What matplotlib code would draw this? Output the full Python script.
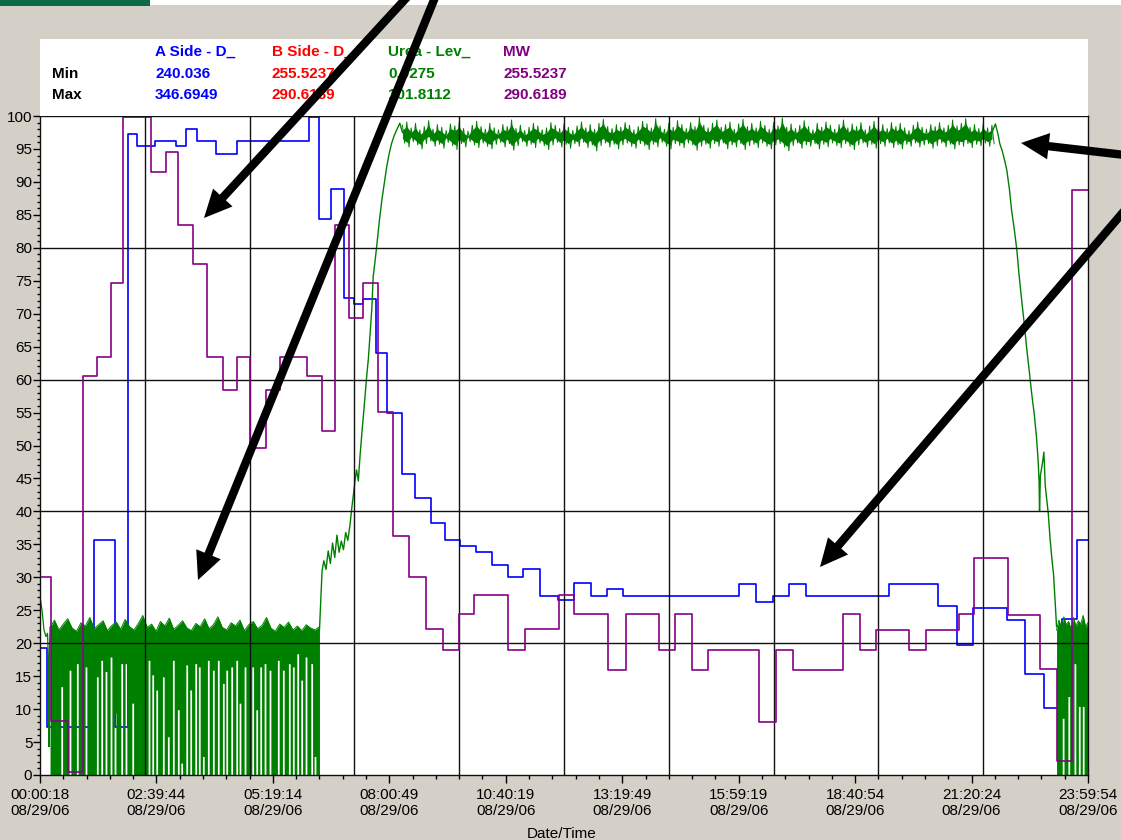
import numpy as np
import matplotlib
matplotlib.use("Agg")
import matplotlib.pyplot as plt
from matplotlib.patches import Rectangle, FancyArrowPatch, ArrowStyle
from matplotlib.ticker import MultipleLocator, AutoMinorLocator

plt.rcParams['font.family'] = ['Liberation Sans', 'DejaVu Sans']

# ---------------- data (time in hours from 00:00:18) ----------------
x_times = ["00:00:18", "02:39:44", "05:19:14", "08:00:49", "10:40:19",
           "13:19:49", "15:59:19", "18:40:54", "21:20:24", "23:59:54"]
x_date = "08/29/06"

series_names = ["A Side - D_", "B Side - D_", "Urea - Lev_", "MW"]
series_min = ["240.036", "255.5237", "0.0275", "255.5237"]
series_max = ["346.6949", "290.6189", "101.8112", "290.6189"]

# MW (purple) step series: level start times and values
mw_t = [0.0, 0.245, 0.64, 0.98, 1.31, 1.62, 1.91, 2.54, 2.89, 3.17, 3.51, 3.82,
        4.19, 4.50, 4.81, 5.17, 5.50, 6.11, 6.46, 6.76, 7.08, 7.39, 7.73, 8.08,
        8.46, 8.84, 9.22, 9.59, 9.95, 10.71, 11.11, 11.88, 12.24, 13.01, 13.41,
        14.17, 14.54, 14.93, 15.30, 16.46, 16.85, 17.25, 18.39, 18.78, 19.15,
        19.91, 20.28, 21.04, 21.40, 22.17, 22.90, 23.30, 23.63]
mw_v = [30.0, 8.2, 0.4, 60.6, 63.5, 74.6, 99.8, 91.5, 94.5, 83.5, 77.5, 63.5,
        58.4, 63.5, 49.6, 58.4, 63.5, 60.6, 52.2, 83.5, 69.4, 74.6, 55.1, 36.2,
        30.1, 22.1, 19.0, 24.4, 27.3, 19.0, 22.1, 27.3, 24.4, 15.9, 24.4,
        19.0, 24.4, 15.9, 19.0, 8.0, 19.0, 15.9, 24.4, 19.0, 22.0,
        19.0, 22.0, 24.4, 33.0, 24.3, 16.1, 2.2, 88.8]

# A Side (blue) step series
a_t = [0.0, 0.16, 1.24, 1.72, 2.01, 2.21, 2.63, 3.11, 3.34, 3.60, 4.03, 4.50,
       6.17, 6.40, 6.66, 6.96, 7.20, 7.39, 7.69, 7.95, 8.28, 8.59, 8.95, 9.27,
       9.62, 9.98, 10.35, 10.72, 11.07, 11.44, 11.86, 12.24, 12.61, 12.98,
       13.35, 16.01, 16.39, 16.78, 17.15, 17.54, 19.44, 20.56, 20.99, 21.36,
       22.15, 22.56, 23.00, 23.40, 23.75]
a_v = [19.3, 7.3, 35.6, 7.3, 97.3, 95.4, 96.2, 95.4, 98.0, 96.2, 94.3, 96.2,
       99.8, 84.3, 88.9, 72.4, 71.4, 72.3, 64.1, 54.9, 45.7, 42.1, 38.3, 35.6,
       34.8, 33.9, 31.8, 30.1, 31.2, 27.2, 26.5, 29.1, 27.2, 28.2,
       27.2, 29.0, 26.3, 27.1, 29.0, 27.1, 29.0, 25.6, 19.8, 25.4,
       23.5, 15.3, 10.1, 23.7, 35.6]

# Urea level (green): start trace
urea_start_t = [0.0, 0.046, 0.092, 0.137, 0.172, 0.19, 0.206, 0.22, 0.23]
urea_start_v = [27.1, 25.0, 22.0, 21.0, 21.5, 18.0, 4.3, 20.0, 22.4]

# low-level oscillating band (0 .. top), 00:14 - 06:24
urea_low_top = [22.4, 23.5, 22.0, 22.9, 23.7, 22.3, 21.8, 23.1, 22.6, 23.9,
                22.2, 22.8, 23.4, 21.9, 22.7, 23.2, 22.1, 23.6, 22.5, 22.0,
                23.0, 24.2, 22.4, 22.9, 21.8, 23.3, 22.6, 23.8, 22.1, 22.7,
                23.4, 22.3, 21.9, 23.0, 22.5, 23.7, 22.2, 22.8, 24.0, 22.4,
                22.0, 23.1, 22.6, 23.5, 21.9, 22.8, 23.3, 22.2, 22.7, 23.9,
                22.3, 21.8, 22.9, 22.4, 23.2, 22.0, 22.6, 21.9, 22.8, 22.3,
                22.0, 22.5]
# moments where the oscillation does not reach 0 (time, lowest value)
urea_gap_t = [0.497, 0.687, 0.854, 1.053, 1.312, 1.413, 1.511, 1.626, 1.718,
              1.871, 1.969, 2.123, 2.496, 2.581, 2.673, 2.824, 2.938, 3.053,
              3.167, 3.245, 3.360, 3.451, 3.566, 3.648, 3.740, 3.854, 3.969,
              4.083, 4.198, 4.276, 4.390, 4.505, 4.580, 4.695, 4.871, 4.963,
              5.054, 5.153, 5.267, 5.457, 5.572, 5.709, 5.801, 5.902, 5.993,
              6.092, 6.222, 6.298, 23.43, 23.56, 23.70, 23.80, 23.89]
urea_gap_v = [13.4, 15.9, 16.9, 16.4, 14.9, 17.4, 15.7, 17.9, 9.4,
              16.9, 16.9, 10.9, 17.4, 15.2, 12.9, 14.9, 5.8, 17.4,
              9.9, 1.8, 16.7, 12.9, 16.9, 16.4, 2.8, 17.4, 15.9,
              17.4, 13.9, 15.9, 16.4, 17.4, 10.9, 16.4, 16.4, 9.9,
              16.4, 16.9, 15.9, 17.4, 15.9, 16.9, 16.4, 18.4, 14.4,
              17.9, 16.9, 2.8, 8.6, 11.9, 16.9, 10.4, 10.4]

# rise from low level to full level
urea_rise_t = [6.40, 6.43, 6.46, 6.50, 6.55, 6.60, 6.65, 6.70, 6.75, 6.80, 6.85,
               6.90, 6.95, 7.00, 7.05, 7.10, 7.14, 7.18, 7.22, 7.25, 7.29, 7.33,
               7.37, 7.42, 7.48, 7.52, 7.56, 7.60, 7.63, 7.67, 7.71, 7.77, 7.83,
               7.88, 7.94, 8.00, 8.05, 8.11, 8.17, 8.24, 8.30]
urea_rise_v = [22.0, 26.5, 31.0, 32.5, 31.2, 34.0, 32.1, 35.2, 33.0, 36.4, 33.8,
               35.5, 34.2, 36.8, 35.6, 38.0, 40.5, 42.7, 45.0, 46.3, 44.6, 48.5,
               51.8, 55.6, 60.4, 63.2, 67.0, 70.9, 75.6, 77.8, 80.2, 84.0, 87.3,
               89.6, 92.3, 94.4, 95.8, 97.0, 97.9, 98.9, 97.5]

# full-level plateau band (upper / lower edge), 08:18 - 21:48, every 6 min
urea_hi = [98.6, 99.1, 98.2, 98.9, 97.9, 98.4, 99.3, 98.0, 98.7, 98.3,
           97.8, 98.8, 98.5, 99.0, 98.1, 97.7, 98.6, 99.2, 98.4, 98.0,
           98.9, 98.2, 97.9, 98.7, 98.4, 99.4, 98.1, 98.6, 97.8, 98.3,
           98.9, 98.5, 97.9, 98.2, 99.0, 98.6, 98.1, 98.8, 98.3, 97.8,
           98.5, 99.1, 98.2, 98.7, 98.0, 98.9, 99.5, 98.4, 98.1, 98.7,
           98.3, 99.0, 98.6, 97.9, 98.4, 99.2, 98.8, 98.2, 99.6, 98.5,
           98.0, 98.9, 98.3, 99.3, 98.7, 98.1, 99.0, 98.4, 99.8, 98.6,
           98.2, 98.9, 99.4, 98.3, 98.7, 99.1, 98.0, 98.8, 99.5, 98.4,
           98.9, 98.2, 99.2, 98.6, 98.0, 99.0, 98.5, 99.7, 98.3, 98.8,
           98.1, 98.6, 99.3, 98.4, 97.9, 98.9, 98.3, 99.1, 98.6, 98.0,
           98.7, 99.4, 98.2, 98.8, 98.4, 99.0, 97.9, 98.5, 99.2, 98.3,
           98.7, 98.1, 99.0, 98.4, 98.9, 98.2, 97.8, 98.6, 99.1, 98.3,
           98.0, 98.7, 98.4, 99.0, 98.2, 98.6, 99.4, 98.5, 98.9, 99.6,
           98.3, 98.7, 98.1, 98.8, 98.2, 98.6]
urea_lo = [95.9, 95.3, 96.1, 95.6, 95.0, 95.8, 96.2, 95.4, 95.7, 95.1,
           96.0, 95.5, 94.9, 95.8, 95.3, 96.1, 95.6, 95.2, 95.9, 95.4,
           95.0, 95.7, 96.0, 95.3, 95.8, 94.8, 95.5, 96.1, 95.4, 95.7,
           95.2, 95.9, 95.5, 94.9, 95.6, 96.0, 95.3, 95.7, 95.1, 95.8,
           95.4, 96.0, 95.2, 95.6, 94.7, 95.5, 95.9, 95.3, 95.7, 95.0,
           95.6, 95.9, 95.4, 95.1, 95.8, 95.5, 94.9, 95.7, 95.3, 96.0,
           95.4, 95.0, 95.8, 95.5, 95.2, 95.9, 95.6, 94.8, 95.4, 95.7,
           95.1, 95.8, 95.4, 95.9, 95.0, 95.6, 95.3, 95.8, 94.9, 95.5,
           95.7, 95.2, 95.9, 95.4, 95.0, 95.6, 95.8, 95.3, 94.7, 95.5,
           95.9, 95.1, 95.6, 95.4, 95.8, 95.0, 95.7, 95.3, 95.9, 95.5,
           95.2, 95.8, 95.4, 94.9, 95.6, 95.9, 95.3, 95.7, 95.1, 95.8,
           95.4, 95.9, 95.2, 95.6, 95.0, 95.7, 95.4, 95.9, 95.3, 95.6,
           95.8, 95.1, 95.5, 95.9, 95.3, 95.7, 95.0, 95.6, 95.4, 95.8,
           95.2, 95.7, 95.5, 95.9, 95.4, 95.8]

# fall back to low level
urea_fall_t = [21.80, 21.88, 21.94, 21.98, 22.04, 22.10, 22.14, 22.20, 22.25,
               22.31, 22.37, 22.42, 22.48, 22.54, 22.60, 22.66, 22.71, 22.77,
               22.82, 22.86, 22.88, 22.89, 22.91, 22.95, 22.99, 23.02, 23.06,
               23.09, 23.13, 23.17, 23.21, 23.25, 23.28]
urea_fall_v = [97.5, 98.8, 97.2, 95.8, 94.6, 93.0, 91.8, 88.9, 85.7,
               82.9, 79.7, 76.0, 72.1, 68.5, 64.5, 61.0, 57.9, 54.7,
               51.3, 47.5, 44.5, 40.0, 45.5, 47.0, 49.0, 44.0, 41.5,
               39.7, 36.0, 33.0, 30.5, 26.0, 22.5]

# final low-level band, 23:17 - 24:00
urea_end_top = [22.0, 23.5, 22.4, 24.0, 22.8, 23.3, 22.1, 23.9, 22.6, 23.4,
                22.9, 24.2, 22.5, 23.1]

# ---------------- figure ----------------
W, H = 1121, 840
fig = plt.figure(figsize=(W / 100, H / 100), dpi=100)
fig.patch.set_facecolor('#d4d0c8')


def fx(px):
    return px / W


def fy(py):
    return 1 - py / H


# header decorations
fig.patches.append(Rectangle((fx(150), fy(5)), fx(971), 5 / H, transform=fig.transFigure,
                             facecolor='white', edgecolor='none', zorder=0))
fig.patches.append(Rectangle((0, fy(6)), fx(150), 6 / H, transform=fig.transFigure,
                             facecolor='#0d6a47', edgecolor='none', zorder=0))
# legend / statistics box
fig.patches.append(Rectangle((fx(40), fy(116)), fx(1048), 77 / H, transform=fig.transFigure,
                             facecolor='white', edgecolor='none', zorder=0))

GREEN = '#008000'
BLUE = '#0000ff'
PURPLE = '#880088'
RED = '#ff0000'
col_colors = [BLUE, RED, GREEN, '#800080']
col_x = [155, 272, 388, 503]
for name, mn, mx, c, x in zip(series_names, series_min, series_max, col_colors, col_x):
    fig.text(fx(x), fy(52), name, color=c, fontsize=11, fontweight='bold', va='center', ha='left')
    fig.text(fx(x), fy(74), mn, color=c, fontsize=11, fontweight='bold', va='center', ha='left')
    fig.text(fx(x), fy(95), mx, color=c, fontsize=11, fontweight='bold', va='center', ha='left')
fig.text(fx(52), fy(74), "Min", color='black', fontsize=11, fontweight='bold', va='center', ha='left')
fig.text(fx(52), fy(95), "Max", color='black', fontsize=11, fontweight='bold', va='center', ha='left')

ax = fig.add_axes([fx(40), fy(775), 1048 / W, 659 / H])
ax.set_facecolor('white')
ax.set_xlim(0, 24)
ax.set_ylim(0, 100)


def band_with_gaps(t_env, top_env, gap_t, gap_v, w=0.04):
    """Fill 0..top, leaving the listed moments open below their lowest value."""
    t_env = np.asarray(t_env, float)
    top_env = np.asarray(top_env, float)
    sel = [(g, v) for g, v in zip(gap_t, gap_v) if t_env[0] < g < t_env[-1]]
    pts = []
    for t in t_env:
        low = 0.0
        for g, v in sel:
            if g - w / 2 < t < g + w / 2:
                low = v
        pts.append((t, 0, low))
    for g, v in sel:
        pts += [(g - w / 2, 0, 0.0), (g - w / 2, 1, v), (g + w / 2, 0, v), (g + w / 2, 1, 0.0)]
    pts.sort(key=lambda p: (p[0], p[1]))
    x = np.array([p[0] for p in pts])
    lower = np.array([p[2] for p in pts])
    upper = np.interp(x, t_env, top_env)
    ax.fill_between(x, lower, upper, color=GREEN, lw=0, zorder=1)
    ax.plot(t_env, top_env, color=GREEN, lw=0.7, zorder=1)


# green: urea level
ax.plot(urea_start_t, urea_start_v, color=GREEN, lw=0.9, zorder=1.2)
band_with_gaps(np.linspace(0.23, 6.40, len(urea_low_top)), urea_low_top, urea_gap_t, urea_gap_v)
band_with_gaps(np.linspace(23.28, 24.0, len(urea_end_top)), urea_end_top, urea_gap_t, urea_gap_v)

ax.plot(urea_rise_t, urea_rise_v, color=GREEN, lw=1.0, zorder=1.2)
t_pl = np.linspace(8.30, 21.80, len(urea_hi))
hi = np.asarray(urea_hi)
lo = np.asarray(urea_lo)
ax.fill_between(t_pl, lo + 0.7, hi - 0.7, color=GREEN, lw=0, zorder=1)
half = (t_pl[1] - t_pl[0]) / 2
zig_t = np.column_stack([t_pl, t_pl + half]).ravel()
zig_v = np.column_stack([hi, lo]).ravel()
ax.plot(zig_t, zig_v, color=GREEN, lw=0.7, zorder=1)
ax.plot(urea_fall_t, urea_fall_v, color=GREEN, lw=1.0, zorder=1.2)

# grid
for g in [20, 40, 60, 80]:
    ax.axhline(g, color='#111111', lw=1.0, zorder=1.5)
for g in np.arange(2.4, 23.9, 2.4):
    ax.axvline(g, color='#111111', lw=1.0, zorder=1.5)

# step series
ax.step(list(a_t) + [24.0], list(a_v) + [a_v[-1]], where='post', color=BLUE, lw=1.2, zorder=0.95)
ax.step(list(mw_t) + [24.0], list(mw_v) + [mw_v[-1]], where='post', color=PURPLE, lw=1.2, zorder=2.1)

# ticks
ax.yaxis.set_major_locator(MultipleLocator(5))
ax.yaxis.set_minor_locator(MultipleLocator(1))
ax.set_xticks(np.linspace(0, 24, len(x_times)))
ax.set_xticklabels([f"{tm}\n{x_date}" for tm in x_times])
ax.xaxis.set_minor_locator(AutoMinorLocator(5))
for lab in ax.get_xticklabels():
    lab.set_linespacing(1.2)
ax.tick_params(axis='x', which='major', length=6, width=1, pad=3.5, labelsize=11, direction='out')
ax.tick_params(axis='x', which='minor', length=3, width=1, direction='out')
ax.tick_params(axis='y', which='major', length=5, width=1, pad=0.5, labelsize=11, direction='out')
ax.tick_params(axis='y', which='minor', length=2.5, width=1, direction='out')
for s in ax.spines.values():
    s.set_color('#111111')
    s.set_linewidth(1.0)

fig.text(fx(562), fy(834), "Date/Time", fontsize=11, ha='center', va='center')

# annotation arrows (pixel positions, y from top)
arrows = [((409, -5), (204, 218)),
          ((436, -5), (198, 580)),
          ((1125, 155), (1021, 143)),
          ((1125, 210), (820, 567))]
style = ArrowStyle("Simple", head_length=2.0, head_width=1.9, tail_width=0.6)
for (x0, y0), (x1, y1) in arrows:
    fig.patches.append(FancyArrowPatch((fx(x0), fy(y0)), (fx(x1), fy(y1)),
                                       transform=fig.transFigure, arrowstyle=style,
                                       mutation_scale=10, color='black', lw=0,
                                       shrinkA=0, shrinkB=0, zorder=10))

fig.savefig("out.png", dpi=100, facecolor=fig.get_facecolor())
